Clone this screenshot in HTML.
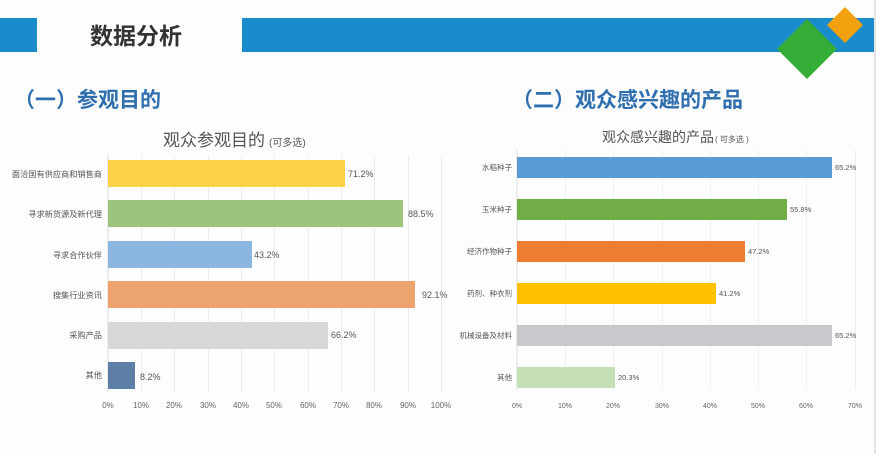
<!DOCTYPE html>
<html><head><meta charset="utf-8"><style>
body{margin:0;background:#fff;}
svg{display:block;font-family:"Liberation Sans","Noto Sans CJK SC",sans-serif;}
</style></head><body>
<svg width="876" height="454" viewBox="0 0 876 454">
<rect x="0" y="0" width="876" height="454" fill="#fdfdfd"/>
<rect x="0" y="18" width="37" height="34" fill="#1a8bcb"/>
<rect x="242" y="18" width="632" height="34" fill="#1a8bcb"/>
<text x="90" y="44" font-size="23" font-weight="bold" fill="#333">数据分析</text>
<polygon points="807,19 837,49 807,79 777,49" fill="#35ab38"/>
<polygon points="845,7 863,25 845,43 827,25" fill="#f2a20f"/>
<text x="14" y="107" font-size="21" font-weight="bold" fill="#2f6fb0">（一）参观目的</text>
<text x="512" y="107" font-size="21" font-weight="bold" fill="#2f6fb0">（二）观众感兴趣的产品</text>

<!-- left chart -->
<text x="163" y="146" font-size="17" fill="#555">观众参观目的<tspan font-size="10" dx="4">(可多选)</tspan></text>
<g stroke="#ececec" stroke-width="1">
<line x1="141.5" y1="155" x2="141.5" y2="392"/><line x1="174.5" y1="155" x2="174.5" y2="392"/><line x1="208.5" y1="155" x2="208.5" y2="392"/><line x1="241.5" y1="155" x2="241.5" y2="392"/><line x1="274.5" y1="155" x2="274.5" y2="392"/><line x1="308.5" y1="155" x2="308.5" y2="392"/><line x1="341.5" y1="155" x2="341.5" y2="392"/><line x1="374.5" y1="155" x2="374.5" y2="392"/><line x1="408.5" y1="155" x2="408.5" y2="392"/><line x1="441.5" y1="155" x2="441.5" y2="392"/>
<line x1="108" y1="155" x2="108" y2="392" stroke="#ddd"/>
</g>
<rect x="108" y="160" width="237" height="27" fill="#fcd24a"/>
<rect x="108" y="200" width="295" height="27" fill="#9bc47c"/>
<rect x="108" y="241" width="144" height="27" fill="#8ab6e0"/>
<rect x="108" y="281" width="307" height="27" fill="#eda36d"/>
<rect x="108" y="322" width="220" height="27" fill="#d8d7da"/>
<rect x="108" y="362" width="27" height="27" fill="#5d7ea6"/>
<g font-size="9" fill="#555">
<text x="348" y="177">71.2%</text><text x="408" y="217">88.5%</text><text x="254" y="258">43.2%</text><text x="422" y="298">92.1%</text><text x="331" y="338">66.2%</text><text x="140" y="380">8.2%</text>
</g>
<g font-size="8.2" fill="#555" text-anchor="end">
<text x="102" y="177">面洽国有供应商和销售商</text><text x="102" y="217">寻求新货源及新代理</text><text x="102" y="258">寻求合作伙伴</text><text x="102" y="298">搜集行业资讯</text><text x="102" y="338">采购产品</text><text x="102" y="378">其他</text>
</g>
<g font-size="8" fill="#666" text-anchor="middle">
<text x="108" y="408">0%</text><text x="141" y="408">10%</text><text x="174" y="408">20%</text><text x="208" y="408">30%</text><text x="241" y="408">40%</text><text x="274" y="408">50%</text><text x="308" y="408">60%</text><text x="341" y="408">70%</text><text x="374" y="408">80%</text><text x="408" y="408">90%</text><text x="441" y="408">100%</text>
</g>

<!-- right chart -->
<text x="602" y="142" font-size="14" fill="#555">观众感兴趣的产品<tspan font-size="8" dx="1">( 可多选 )</tspan></text>
<g stroke="#efefef" stroke-width="1">
<line x1="565.5" y1="150" x2="565.5" y2="390"/><line x1="613.5" y1="150" x2="613.5" y2="390"/><line x1="662.5" y1="150" x2="662.5" y2="390"/><line x1="710.5" y1="150" x2="710.5" y2="390"/><line x1="758.5" y1="150" x2="758.5" y2="390"/><line x1="806.5" y1="150" x2="806.5" y2="390"/><line x1="855.5" y1="150" x2="855.5" y2="390"/>
<line x1="517" y1="150" x2="517" y2="390" stroke="#ddd"/>
</g>
<line x1="875" y1="0" x2="875" y2="454" stroke="#ccc"/>
<rect x="517" y="157" width="315" height="21" fill="#5b9bd5"/>
<rect x="517" y="199" width="270" height="21" fill="#70ad47"/>
<rect x="517" y="241" width="228" height="21" fill="#ed7d31"/>
<rect x="517" y="283" width="199" height="21" fill="#ffc000"/>
<rect x="517" y="325" width="315" height="21" fill="#c9c8cc"/>
<rect x="517" y="367" width="98" height="21" fill="#c5e0b4"/>
<g font-size="7.5" fill="#555">
<text x="835" y="170">65.2%</text><text x="790" y="212">55.8%</text><text x="748" y="254">47.2%</text><text x="719" y="296">41.2%</text><text x="835" y="338">65.2%</text><text x="618" y="380">20.3%</text>
</g>
<g font-size="7.5" fill="#555" text-anchor="end">
<text x="512" y="170">水稻种子</text><text x="512" y="212">玉米种子</text><text x="512" y="254">经济作物种子</text><text x="512" y="296">药剂、种衣剂</text><text x="512" y="338">机械设备及材料</text><text x="512" y="380">其他</text>
</g>
<g font-size="7" fill="#666" text-anchor="middle">
<text x="517" y="408">0%</text><text x="565" y="408">10%</text><text x="613" y="408">20%</text><text x="662" y="408">30%</text><text x="710" y="408">40%</text><text x="758" y="408">50%</text><text x="806" y="408">60%</text><text x="855" y="408">70%</text>
</g>
</svg>
</body></html>
